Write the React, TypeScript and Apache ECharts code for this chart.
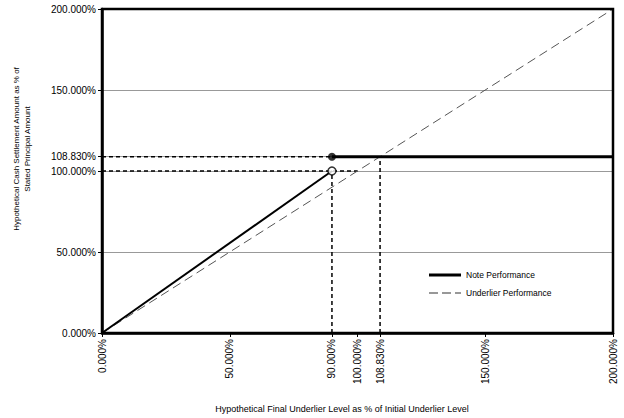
import React, { useEffect, useRef } from "react";
import * as echarts from "echarts";

const xTickValues = [0, 50, 90, 100, 108.83, 150, 200];
const yTickValues = [0, 50, 100, 108.83, 150, 200];
const noteLower = [[0, 0], [90, 100]];
const noteUpper = [[90, 108.83], [200, 108.83]];
const underlier = [[0, 0], [200, 200]];
const refH1 = [[0, 108.83], [90, 108.83]];
const refH2 = [[0, 100], [100, 100]];
const refV1 = [[90, 0], [90, 100]];
const refV2 = [[108.83, 0], [108.83, 108.83]];
const openPoint = [[90, 100]];
const filledPoint = [[90, 108.83]];

const FONT = "Liberation Sans, Arial, sans-serif";
const fmt = (v: number) => v.toFixed(3) + "%";

export default function App() {
  const ref = useRef<HTMLDivElement>(null);
  useEffect(() => {
    const chart = echarts.init(ref.current!, null, { renderer: "svg" });
    const refStyle = { color: "#000", width: 1.5, type: [4, 3] as any };
    chart.setOption({
      animation: false,
      backgroundColor: "#fff",
      grid: { left: 102, right: 11, top: 9, bottom: 85, show: true, borderColor: "#000", borderWidth: 2.5, z: 5 },
      xAxis: {
        type: "value",
        min: 0,
        max: 200,
        interval: 50,
        axisLine: { show: true, lineStyle: { color: "#000", width: 2.5 } },
        axisTick: { show: true, customValues: xTickValues, length: 4, lineStyle: { color: "#000" } },
        axisLabel: {
          customValues: xTickValues,
          rotate: 90,
          formatter: fmt,
          fontFamily: FONT,
          fontSize: 10,
          color: "#000",
          margin: 6,
        },
        splitLine: { show: false },
      },
      yAxis: {
        type: "value",
        min: 0,
        max: 200,
        interval: 50,
        axisLine: { show: true, lineStyle: { color: "#000", width: 2.5 } },
        axisTick: { show: true, customValues: yTickValues, length: 4, lineStyle: { color: "#000" } },
        axisLabel: {
          customValues: yTickValues,
          formatter: fmt,
          fontFamily: FONT,
          fontSize: 10,
          color: "#000",
          margin: 6,
        },
        splitLine: { show: true, lineStyle: { color: "#999", width: 1 } },
      },
      legend: {
        orient: "vertical",
        left: 424,
        top: 265,
        itemWidth: 32,
        itemHeight: 3,
        itemGap: 8,
        data: [
          {
            name: "Note Performance",
            icon: "path://M0,0H32V3H0Z",
            itemStyle: { color: "#000" },
          },
          {
            name: "Underlier Performance",
            icon: "path://M0,1H9V2H0ZM13,1H22V2H13ZM26,1H32V2H26Z",
            itemStyle: { color: "#333" },
          },
        ],
        textStyle: { fontFamily: FONT, fontSize: 8.5, color: "#000", height: 10, lineHeight: 10 },
      },
      graphic: [
        {
          type: "text",
          x: 22,
          y: 149,
          rotation: Math.PI / 2,
          style: {
            text: "Hypothetical Cash Settlement Amount as % of\nStated Principal Amount",
            fontFamily: FONT,
            fontSize: 8,
            lineHeight: 11,
            fill: "#000",
            align: "center",
            verticalAlign: "middle",
          },
        },
        {
          type: "text",
          x: 342,
          y: 409,
          style: {
            text: "Hypothetical Final Underlier Level as % of Initial Underlier Level",
            fontFamily: FONT,
            fontSize: 9,
            fill: "#000",
            align: "center",
            verticalAlign: "middle",
          },
        },
      ],
      series: [
        { type: "line", name: "ref1", data: refH1, symbol: "none", lineStyle: refStyle, z: 3 },
        { type: "line", name: "ref2", data: refH2, symbol: "none", lineStyle: refStyle, z: 3 },
        { type: "line", name: "ref3", data: refV1, symbol: "none", lineStyle: refStyle, z: 3 },
        { type: "line", name: "ref4", data: refV2, symbol: "none", lineStyle: refStyle, z: 3 },
        {
          type: "line",
          name: "Underlier Performance",
          data: underlier,
          symbol: "none",
          itemStyle: { color: "#555" },
          lineStyle: { color: "#555", width: 1, type: [9, 5] as any },
          z: 3,
        },
        {
          type: "line",
          name: "Note Performance",
          data: noteLower,
          symbol: "none",
          itemStyle: { color: "#000" },
          lineStyle: { color: "#000", width: 2 },
          z: 4,
        },
        {
          type: "line",
          name: "Note Performance",
          data: noteUpper,
          symbol: "none",
          itemStyle: { color: "#000" },
          lineStyle: { color: "#000", width: 3 },
          z: 4,
        },
        {
          type: "scatter",
          name: "open",
          data: openPoint,
          symbol: "circle",
          symbolSize: 8,
          itemStyle: { color: "#fff", borderColor: "#000", borderWidth: 1.5 },
          z: 6,
        },
        {
          type: "scatter",
          name: "filled",
          data: filledPoint,
          symbol: "circle",
          symbolSize: 8,
          itemStyle: { color: "#000" },
          z: 6,
        },
      ],
    });
    return () => chart.dispose();
  }, []);
  return (
    <div
      ref={ref}
      style={{ position: "absolute", left: 0, top: 0, width: 624, height: 418, background: "#fff" }}
    />
  );
}
